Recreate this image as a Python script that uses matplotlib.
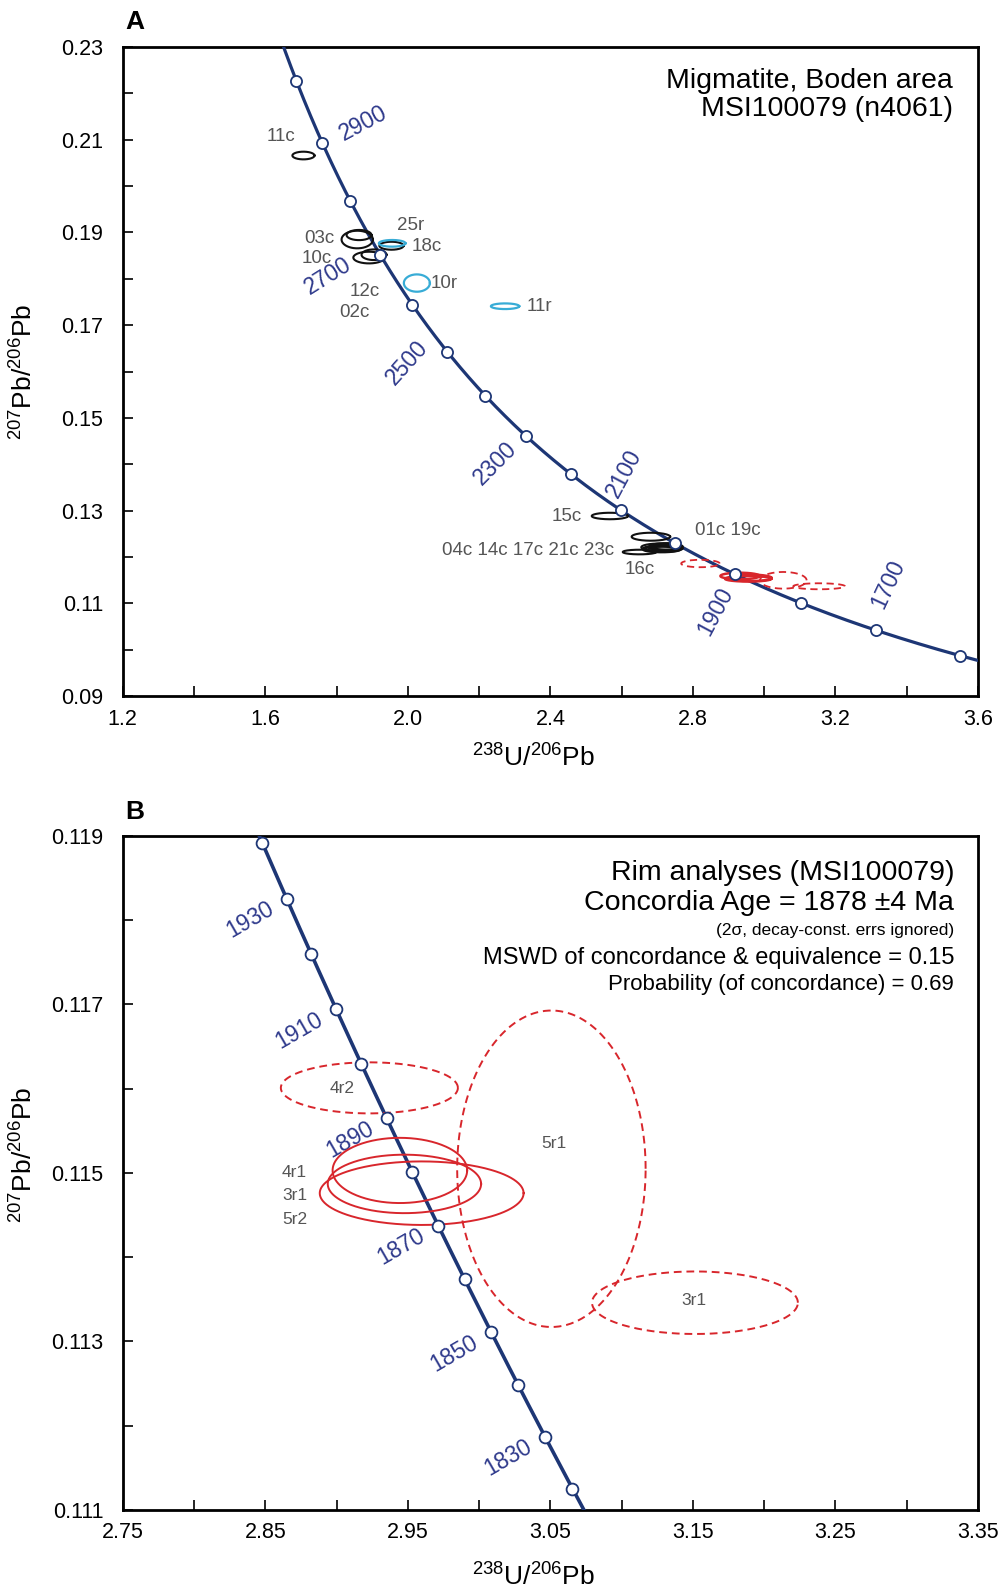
import numpy as np
import matplotlib
matplotlib.use("Agg")
import matplotlib.pyplot as plt
from matplotlib import font_manager
from matplotlib.ticker import FixedLocator, FormatStrFormatter

# fonts: Arial-like, narrow where available
names = {f.name for f in font_manager.fontManager.ttflist}
NARROW = "Liberation Sans Narrow" if "Liberation Sans Narrow" in names else "Liberation Sans"
plt.rcParams["font.family"] = ["Liberation Sans", "DejaVu Sans"]
plt.rcParams["mathtext.fontset"] = "custom"
plt.rcParams["mathtext.rm"] = NARROW
plt.rcParams["mathtext.it"] = NARROW

# decay constants (1/yr) for the Tera-Wasserburg concordia
L238 = 1.55125e-10
L235 = 9.8485e-10
U_RATIO = 137.88

# --- axes ticks ---
xa_major = [1.2, 1.6, 2.0, 2.4, 2.8, 3.2, 3.6]
xa_minor = [1.4, 1.8, 2.2, 2.6, 3.0, 3.4]
ya_major = [0.09, 0.11, 0.13, 0.15, 0.17, 0.19, 0.21, 0.23]
ya_minor = [0.10, 0.12, 0.14, 0.16, 0.18, 0.20, 0.22]
xb_major = [2.75, 2.85, 2.95, 3.05, 3.15, 3.25, 3.35]
xb_minor = [2.80, 2.90, 3.00, 3.10, 3.20, 3.30]
yb_major = [0.111, 0.113, 0.115, 0.117, 0.119]
yb_minor = [0.112, 0.114, 0.116, 0.118]

# --- panel A data ---
ages_a = [1600, 1700, 1800, 1900, 2000, 2100, 2200, 2300, 2400, 2500,
          2600, 2700, 2800, 2900, 3000]
age_lbl_a = ["2900", "2700", "2500", "2300", "2100", "1900", "1700"]
age_lbl_a_x = [1.875, 1.776, 1.997, 2.244, 2.608, 2.862, 3.347]
age_lbl_a_y = [0.2135, 0.1805, 0.1620, 0.1401, 0.1381, 0.1083, 0.1142]
age_lbl_a_rot = [28, 32, 48, 45, 62, 62, 65]

# cores (black): centre x, centre y, 2s half-width x, 2s half-height y
core_x = [1.707, 1.863, 1.858, 1.891, 1.905, 1.954, 2.567, 2.682, 2.650,
          2.705, 2.715, 2.722, 2.712, 2.725, 2.730]
core_y = [0.2066, 0.18945, 0.18848, 0.18459, 0.1852, 0.18714, 0.12884, 0.12437,
          0.12107, 0.1221, 0.1218, 0.1221, 0.1216, 0.1223, 0.1219]
core_w = [0.031, 0.035, 0.044, 0.044, 0.035, 0.034, 0.051, 0.054, 0.047,
          0.050, 0.055, 0.048, 0.052, 0.045, 0.040]
core_h = [0.00083, 0.0011, 0.0019, 0.00126, 0.00115, 0.00086, 0.0007, 0.00086,
          0.0005, 0.0008, 0.0007, 0.0006, 0.0006, 0.0007, 0.0005]

# rims (cyan)
rim_x = [1.956, 2.0253, 2.2728]
rim_y = [0.18766, 0.17909, 0.17409]
rim_w = [0.0374, 0.0365, 0.0398]
rim_h = [0.00072, 0.00187, 0.00061]

# young rims (red) in panel A
red_a_x = [2.821, 3.0535, 3.154, 2.932, 2.955, 2.960]
red_a_y = [0.11859, 0.11497, 0.11368, 0.1159, 0.1153, 0.1155]
red_a_w = [0.054, 0.0655, 0.0726, 0.055, 0.065, 0.060]
red_a_h = [0.0008, 0.0018, 0.00065, 0.0007, 0.0006, 0.0007]
red_a_dash = [True, True, True, False, False, False]

spot_lbl_a = ["11c", "03c", "10c", "25r", "18c", "10r", "11r", "12c", "02c",
              "16c", "01c 19c"]
spot_lbl_a_x = [1.645, 1.753, 1.745, 2.0075, 2.052, 2.101, 2.3705, 1.879, 1.851,
                2.651, 2.899]
spot_lbl_a_y = [0.2107, 0.1887, 0.1844, 0.1914, 0.1869, 0.1789, 0.1740, 0.1772,
                0.1728, 0.1172, 0.1258]
# right-aligned labels
spot_lbl_a_r = ["15c", "04c 14c 17c 21c 23c"]
spot_lbl_a_r_x = [2.488, 2.578]
spot_lbl_a_r_y = [0.1287, 0.1215]

# --- panel B data (rim analyses) ---
ages_b = [1820, 1830, 1840, 1850, 1860, 1870, 1880, 1890, 1900, 1910, 1920,
          1930, 1940]
age_lbl_b = [1930, 1910, 1890, 1870, 1850, 1830]

rimb_name = ["4r2", "5r1", "3r1", "4r1", "3r1", "5r2"]
rimb_x = [2.923, 3.0507, 3.1514, 2.9444, 2.9476, 2.9597]
rimb_y = [0.11601, 0.11505, 0.11346, 0.11503, 0.11487, 0.11476]
rimb_w = [0.0621, 0.0661, 0.0722, 0.0472, 0.0538, 0.0715]
rimb_h = [0.000303, 0.001878, 0.000371, 0.000387, 0.000347, 0.000377]
rimb_dash = [True, True, True, False, False, False]
rimb_lbl = ["4r2", "5r1", "3r1", "4r1\n3r1\n5r2"]
rimb_lbl_x = [2.9042, 3.0527, 3.151, 2.8705]
rimb_lbl_y = [0.11600, 0.11535, 0.11349, 0.11473]

CURVE = "#1d3675"
AGE_TXT = "#2f3a8c"
GREY = "#555555"
RED = "#d8262c"
CYAN = "#38acd6"


def concordia(t_ma):
    t = np.asarray(t_ma, dtype=float) * 1e6
    e238 = np.exp(L238 * t) - 1
    e235 = np.exp(L235 * t) - 1
    return 1 / e238, e235 / e238 / U_RATIO


def ellipse(ax, xc, yc, hw, hh, color, lw, dashed=False):
    th = np.linspace(0, 2 * np.pi, 300)
    ax.plot(xc + hw * np.cos(th), yc + hh * np.sin(th), color=color, lw=lw,
            ls=(0, (4, 2.5)) if dashed else "-", zorder=4)


def style_axes(ax, xmaj, xmin, ymaj, ymin, xfmt, yfmt):
    ax.xaxis.set_major_locator(FixedLocator(xmaj))
    ax.xaxis.set_minor_locator(FixedLocator(xmin))
    ax.yaxis.set_major_locator(FixedLocator(ymaj))
    ax.yaxis.set_minor_locator(FixedLocator(ymin))
    ax.xaxis.set_major_formatter(FormatStrFormatter(xfmt))
    ax.yaxis.set_major_formatter(FormatStrFormatter(yfmt))
    for s in ax.spines.values():
        s.set_linewidth(2.0)
    ax.tick_params(which="both", direction="in", top=False, right=False,
                   width=1.2, length=7, labelsize=15.5)
    ax.tick_params(axis="y", pad=14)
    ax.tick_params(axis="x", pad=9)


fig = plt.figure(figsize=(9.98, 15.95), dpi=100)
axA = fig.add_axes([0.123, 0.5636, 0.857, 0.4069])
axB = fig.add_axes([0.123, 0.0533, 0.857, 0.4226])

# ---------------- panel A ----------------
tc = np.linspace(1500, 3200, 600)
cx, cy = concordia(tc)
axA.plot(cx, cy, color=CURVE, lw=2.3, zorder=3)
mx, my = concordia(ages_a)
axA.plot(mx, my, "o", ms=8, mfc="white", mec=CURVE, mew=1.3, zorder=6)
for s, x, y, r in zip(age_lbl_a, age_lbl_a_x, age_lbl_a_y, age_lbl_a_rot):
    axA.text(x, y, s, color=AGE_TXT, fontsize=16.5, rotation=r,
             ha="center", va="center")

for i in range(len(core_x)):
    ellipse(axA, core_x[i], core_y[i], core_w[i], core_h[i], "#111111", 1.5)
for i in range(len(rim_x)):
    ellipse(axA, rim_x[i], rim_y[i], rim_w[i], rim_h[i], CYAN, 1.6)
for i in range(len(red_a_x)):
    ellipse(axA, red_a_x[i], red_a_y[i], red_a_w[i], red_a_h[i], RED,
            1.3 if red_a_dash[i] else 1.8, dashed=red_a_dash[i])

for s, x, y in zip(spot_lbl_a, spot_lbl_a_x, spot_lbl_a_y):
    axA.text(x, y, s, color=GREY, fontsize=13.5, ha="center", va="center")
for s, x, y in zip(spot_lbl_a_r, spot_lbl_a_r_x, spot_lbl_a_r_y):
    axA.text(x, y, s, color=GREY, fontsize=13.5, ha="right", va="center")

axA.text(0.971, 0.9476, "Migmatite, Boden area", transform=axA.transAxes,
         ha="right", va="center", fontsize=20.5)
axA.text(0.971, 0.9045, "MSI100079 (n4061)", transform=axA.transAxes,
         ha="right", va="center", fontsize=20.5)

axA.set_xlim(1.2, 3.6)
axA.set_ylim(0.09, 0.23)
style_axes(axA, xa_major, xa_minor, ya_major, ya_minor, "%.1f", "%.2f")

# ---------------- panel B ----------------
tc = np.linspace(1800, 1960, 400)
cx, cy = concordia(tc)
axB.plot(cx, cy, color=CURVE, lw=2.6, zorder=3)
mx, my = concordia(ages_b)
axB.plot(mx, my, "o", ms=8.5, mfc="white", mec=CURVE, mew=1.3, zorder=6)
lx, ly = concordia(age_lbl_b)
for a, x, y in zip(age_lbl_b, lx, ly):
    axB.text(x - 0.026, y - 0.00025, str(a), color=AGE_TXT, fontsize=16.5,
             rotation=30, ha="center", va="center")

for i in range(len(rimb_x)):
    ellipse(axB, rimb_x[i], rimb_y[i], rimb_w[i], rimb_h[i], RED, 1.4,
            dashed=rimb_dash[i])
for s, x, y in zip(rimb_lbl, rimb_lbl_x, rimb_lbl_y):
    axB.text(x, y, s, color=GREY, fontsize=12.5, ha="center", va="center",
             linespacing=1.7)

info = [("Rim analyses (MSI100079)", 20.5, 0.945),
        ("Concordia Age = 1878 \u00b14 Ma", 20.5, 0.9006),
        ("(2\u03c3, decay-const. errs ignored)", 12.5, 0.859),
        ("MSWD of concordance & equivalence = 0.15", 17, 0.819),
        ("Probability (of concordance) = 0.69", 16, 0.779)]
for s, fs, y in info:
    axB.text(0.972, y, s, transform=axB.transAxes, ha="right", va="center",
             fontsize=fs)

axB.set_xlim(2.75, 3.35)
axB.set_ylim(0.111, 0.119)
style_axes(axB, xb_major, xb_minor, yb_major, yb_minor, "%.2f", "%.3f")

# axis titles and panel letters
xlab = r"$^{238}$U/$^{206}$Pb"
ylab = r"$^{207}$Pb/$^{206}$Pb"
fig.text(0.535, 0.525, xlab, ha="center", va="center", fontsize=19, family=NARROW)
fig.text(0.535, 0.0115, xlab, ha="center", va="center", fontsize=19, family=NARROW)
fig.text(0.024, 0.767, ylab, ha="center", va="center", fontsize=19,
         rotation=90, family=NARROW)
fig.text(0.024, 0.276, ylab, ha="center", va="center", fontsize=19,
         rotation=90, family=NARROW)
fig.text(0.135, 0.986, "A", fontsize=19, fontweight="bold", ha="center",
         va="center", family=NARROW)
fig.text(0.135, 0.491, "B", fontsize=19, fontweight="bold", ha="center",
         va="center", family=NARROW)

fig.savefig("out.png", dpi=100)
